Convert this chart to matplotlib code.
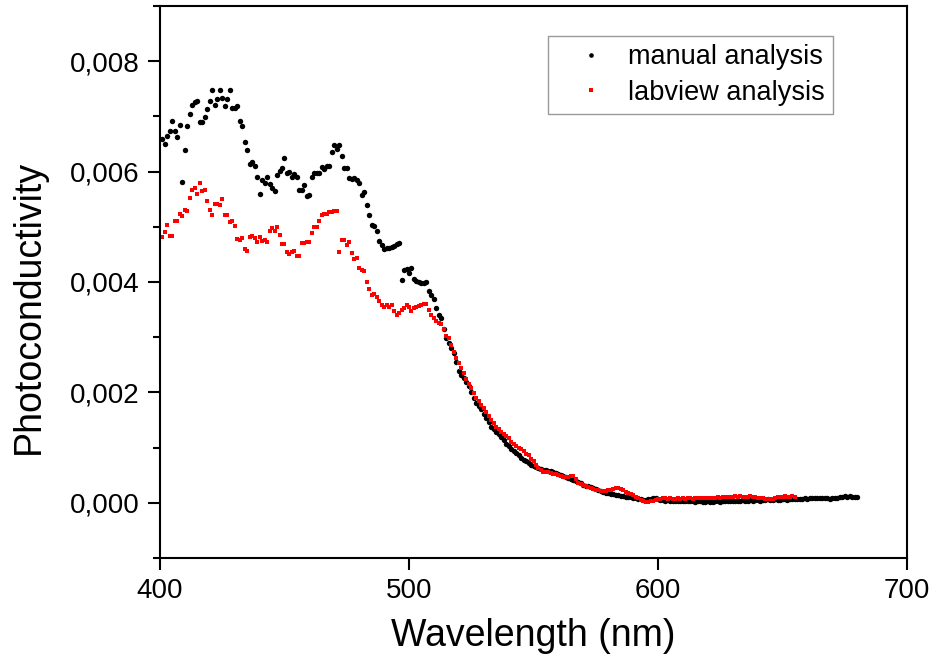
import numpy as np
import matplotlib
matplotlib.use('Agg')
import matplotlib.pyplot as plt
from matplotlib.ticker import MultipleLocator, FuncFormatter

plt.rcParams['font.family'] = ['Liberation Sans', 'DejaVu Sans']

# manual analysis, 401..680 nm (1 nm step)
manual = [
    0.00659, 0.00650, 0.00664, 0.00673, 0.00691, 0.00674, 0.00662, 0.00685, 0.00582, 0.00640,
    0.00682, 0.00705, 0.00721, 0.00726, 0.00727, 0.00690, 0.00689, 0.00699, 0.00713, 0.00728,
    0.00747, 0.00720, 0.00732, 0.00748, 0.00733, 0.00719, 0.00731, 0.00747, 0.00716, 0.00715,
    0.00719, 0.00692, 0.00683, 0.00653, 0.00639, 0.00614, 0.00617, 0.00610, 0.00590, 0.00559,
    0.00585, 0.00579, 0.00590, 0.00577, 0.00570, 0.00565, 0.00593, 0.00601, 0.00607, 0.00625,
    0.00597, 0.00599, 0.00590, 0.00596, 0.00590, 0.00567, 0.00567, 0.00575, 0.00556, 0.00557,
    0.00591, 0.00597, 0.00598, 0.00598, 0.00608, 0.00605, 0.00611, 0.00610, 0.00636, 0.00649,
    0.00641, 0.00649, 0.00629, 0.00607, 0.00607, 0.00589, 0.00586, 0.00589, 0.00584, 0.00579,
    0.00558, 0.00563, 0.00540, 0.00521, 0.00503, 0.00501, 0.00493, 0.00475, 0.00467, 0.00459,
    0.00461, 0.00462, 0.00464, 0.00466, 0.00468, 0.00470, 0.00403, 0.00421, 0.00423, 0.00416,
    0.00426, 0.00406, 0.00401, 0.00400, 0.00398, 0.00399, 0.00400, 0.00384, 0.00376, 0.00369,
    0.00352, 0.00340, 0.00335, 0.00315, 0.00299, 0.00290, 0.00281, 0.00272, 0.00255, 0.00239,
    0.00232, 0.00226, 0.00219, 0.00212, 0.00201, 0.00190, 0.00181, 0.00175, 0.00169, 0.00161,
    0.00153, 0.00146, 0.00138, 0.00133, 0.00129, 0.00124, 0.00119, 0.00113, 0.00107, 0.00102,
    0.00098, 0.00094, 0.00090, 0.00086, 0.00082, 0.00078, 0.00075, 0.00072, 0.00069, 0.00067,
    0.00065, 0.00063, 0.00062, 0.00060, 0.00059, 0.00058, 0.00057, 0.00055, 0.00054, 0.00052,
    0.00051, 0.00049, 0.00047, 0.00045, 0.00043, 0.00041, 0.00039, 0.00037, 0.00035, 0.00033,
    0.00031, 0.00030, 0.00029, 0.00027, 0.00025, 0.00023, 0.00021, 0.00019, 0.00018, 0.00017,
    0.00016, 0.00015, 0.00014, 0.00014, 0.00013, 0.00012, 0.00011, 0.00010, 0.00010, 0.00009,
    0.00008, 0.00007, 0.00006, 0.00005, 0.00005, 0.00006, 0.00007, 0.00008, 0.00008, 0.00006,
    0.00005, 0.00005, 0.00004, 0.00005, 0.00004, 0.00004, 0.00003, 0.00004, 0.00004, 0.00003,
    0.00003, 0.00004, 0.00003, 0.00003, 0.00002, 0.00003, 0.00003, 0.00002, 0.00002, 0.00003,
    0.00002, 0.00002, 0.00003, 0.00003, 0.00002, 0.00003, 0.00004, 0.00003, 0.00004, 0.00004,
    0.00003, 0.00004, 0.00004, 0.00005, 0.00004, 0.00004, 0.00005, 0.00004, 0.00005, 0.00005,
    0.00004, 0.00005, 0.00005, 0.00006, 0.00005, 0.00005, 0.00006, 0.00005, 0.00005, 0.00006,
    0.00006, 0.00005, 0.00006, 0.00006, 0.00007, 0.00006, 0.00007, 0.00007, 0.00008, 0.00007,
    0.00008, 0.00008, 0.00009, 0.00008, 0.00008, 0.00009, 0.00008, 0.00008, 0.00007, 0.00008,
    0.00009, 0.00008, 0.00010, 0.00011, 0.00012, 0.00011, 0.00012, 0.00011, 0.00011, 0.00010,
]
wl_manual = np.arange(401, 401 + len(manual))

# labview analysis, 401..655 nm
labview = [
    0.00481, 0.00490, 0.00504, 0.00484, 0.00484, 0.00510, 0.00510, 0.00524, 0.00520, 0.00531,
    0.00528, 0.00553, 0.00567, 0.00570, 0.00559, 0.00579, 0.00564, 0.00567, 0.00547, 0.00531,
    0.00522, 0.00541, 0.00541, 0.00540, 0.00550, 0.00522, 0.00522, 0.00509, 0.00511, 0.00502,
    0.00477, 0.00476, 0.00479, 0.00459, 0.00456, 0.00481, 0.00484, 0.00479, 0.00473, 0.00482,
    0.00475, 0.00476, 0.00473, 0.00492, 0.00498, 0.00492, 0.00500, 0.00485, 0.00468, 0.00468,
    0.00455, 0.00450, 0.00454, 0.00456, 0.00447, 0.00447, 0.00470, 0.00471, 0.00472, 0.00472,
    0.00489, 0.00500, 0.00500, 0.00510, 0.00522, 0.00523, 0.00524, 0.00526, 0.00527, 0.00528,
    0.00529, 0.00455, 0.00476, 0.00476, 0.00467, 0.00473, 0.00452, 0.00441, 0.00443, 0.00426,
    0.00422, 0.00419, 0.00400, 0.00388, 0.00376, 0.00378, 0.00372, 0.00365, 0.00358, 0.00355,
    0.00359, 0.00354, 0.00359, 0.00347, 0.00340, 0.00344, 0.00349, 0.00352, 0.00358, 0.00355,
    0.00347, 0.00352, 0.00355, 0.00357, 0.00359, 0.00360, 0.00361, 0.00350, 0.00341, 0.00335,
    0.00330, 0.00326, 0.00323, 0.00314, 0.00303, 0.00298, 0.00285, 0.00274, 0.00262, 0.00254,
    0.00245, 0.00236, 0.00224, 0.00215, 0.00208, 0.00199, 0.00190, 0.00184, 0.00178, 0.00171,
    0.00165, 0.00158, 0.00150, 0.00144, 0.00138, 0.00133, 0.00129, 0.00125, 0.00121, 0.00118,
    0.00111, 0.00106, 0.00103, 0.00100, 0.00097, 0.00093, 0.00089, 0.00086, 0.00080, 0.00075,
    0.00069, 0.00063, 0.00059, 0.00056, 0.00056, 0.00055, 0.00054, 0.00053, 0.00053, 0.00051,
    0.00049, 0.00047, 0.00046, 0.00047, 0.00048, 0.00049, 0.00043, 0.00036, 0.00034, 0.00032,
    0.00030, 0.00028, 0.00027, 0.00025, 0.00024, 0.00023, 0.00022, 0.00021, 0.00022, 0.00023,
    0.00024, 0.00025, 0.00026, 0.00026, 0.00025, 0.00023, 0.00020, 0.00018, 0.00016, 0.00014,
    0.00011, 0.00008, 0.00005, 0.00003, 0.00002, 0.00002, 0.00003, 0.00004, 0.00005, 0.00006,
    0.00007, 0.00008, 0.00008, 0.00007, 0.00008, 0.00007, 0.00007, 0.00008, 0.00007, 0.00008,
    0.00007, 0.00008, 0.00008, 0.00007, 0.00008, 0.00008, 0.00009, 0.00008, 0.00008, 0.00009,
    0.00008, 0.00009, 0.00009, 0.00010, 0.00009, 0.00010, 0.00011, 0.00010, 0.00010, 0.00011,
    0.00012, 0.00011, 0.00012, 0.00011, 0.00010, 0.00011, 0.00012, 0.00011, 0.00010, 0.00009,
    0.00008, 0.00008, 0.00007, 0.00006, 0.00006, 0.00007, 0.00008, 0.00010, 0.00011, 0.00011,
    0.00012, 0.00011, 0.00011, 0.00012, 0.00011,
]
wl_labview = np.arange(401, 401 + len(labview))

fig = plt.figure(figsize=(9.34, 6.66), dpi=100)
ax = fig.add_axes([0.1713, 0.1622, 0.7998, 0.8288])

ax.plot(wl_manual, manual, linestyle='none', marker='o', ms=3.9, mew=0,
        color='black', label='manual analysis')
ax.plot(wl_labview, labview, linestyle='none', marker='s', ms=3.5, mew=0,
        color='#ff0000', label='labview analysis')

ax.set_xlim(400, 700)
ax.set_ylim(-0.001, 0.009)
ax.xaxis.set_major_locator(MultipleLocator(100))
ax.yaxis.set_major_locator(MultipleLocator(0.002))
ax.yaxis.set_minor_locator(MultipleLocator(0.001))
ax.yaxis.set_major_formatter(FuncFormatter(lambda v, p: f"{v:.3f}".replace('.', ',')))

ax.tick_params(which='major', direction='out', length=8.5, width=1.5, labelsize=20, pad=6)
ax.tick_params(which='minor', direction='out', length=5, width=1.5)
ax.tick_params(top=False, right=False)
for s in ax.spines.values():
    s.set_linewidth(1.5)

ax.set_xlabel('Wavelength (nm)', fontsize=27, labelpad=10)
ax.set_ylabel('Photoconductivity', fontsize=27)
ax.yaxis.set_label_coords(-0.151, 0.455)

leg = ax.legend(loc='upper right', bbox_to_anchor=(0.9005, 0.9457), borderaxespad=0,
                fontsize=19.5, markerscale=0.85, handlelength=2.6, handletextpad=0.05,
                borderpad=0.3, labelspacing=0.35, fancybox=False, framealpha=1,
                edgecolor='#999999')
leg.get_frame().set_linewidth(1.0)

fig.savefig('out.png', dpi=100)
